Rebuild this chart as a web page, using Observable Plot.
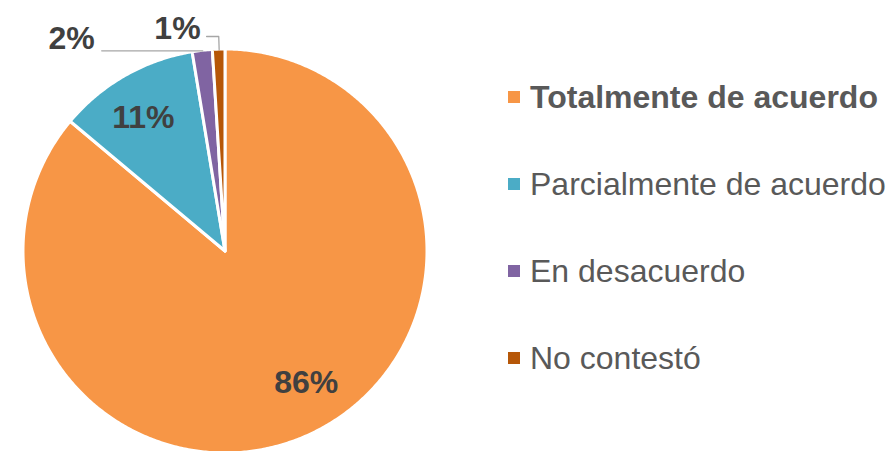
<!DOCTYPE html>
<html><head><meta charset="utf-8">
<script src="https://cdn.jsdelivr.net/npm/d3@7"></script>
<script src="https://cdn.jsdelivr.net/npm/@observablehq/plot@0.6"></script>
<style>
body{margin:0;background:#fff;font-family:"Liberation Sans",Arial,sans-serif;}
#wrap{position:relative;width:892px;height:451px;overflow:hidden;}
#chart{position:absolute;left:0;top:0;}
#legend{position:absolute;left:508px;top:0;}
.item{position:absolute;left:0;display:flex;align-items:center;height:32px;line-height:32px;font-size:32px;color:#595959;white-space:nowrap;}
.sw{width:12px;height:12px;margin-right:10px;flex:none;}
</style></head><body>
<div id="wrap"><div id="chart"></div><div id="legend"></div></div>
<script>
// ---- data ----
const categories = ["Totalmente de acuerdo", "Parcialmente de acuerdo", "En desacuerdo", "No contestó"];
const values = [86.1, 11.3, 1.6, 1.0];
const labels = ["86%", "11%", "2%", "1%"];
const colors = ["#F79646", "#4BACC6", "#8064A2", "#B65708"];

// ---- layout (not data) ----
const insideLabels = {
  "Totalmente de acuerdo": {r: 0.77, dx: 15, dy: -10},
  "Parcialmente de acuerdo": {r: 0.77, dx: -5, dy: 1}
};
const outsideLabels = {
  "En desacuerdo": {elbowR: 1.0, run: 0.5, dx: -7, dy: -12},
  "No contestó": {elbowR: 1.065, run: 0.06, dx: -6, dy: -8}
};

// ---- slices (angles clockwise from 12 o'clock) ----
const total = d3.sum(values);
let acc = 0;
const slices = categories.map((c, i) => {
  const a0 = acc / total * 2 * Math.PI;
  acc += values[i];
  const a1 = acc / total * 2 * Math.PI;
  return {cat: c, label: labels[i], a0, a1, mid: (a0 + a1) / 2};
});
const arcPts = slices.flatMap(s => {
  const n = Math.max(4, Math.ceil((s.a1 - s.a0) / (Math.PI / 360)));
  return d3.range(n + 1).map(k => {
    const a = s.a0 + (s.a1 - s.a0) * k / n;
    return {cat: s.cat, x: Math.sin(a), y: Math.cos(a)};
  });
});

const marks = [
  Plot.area(arcPts, {x1: () => 0, y1: () => 0, x2: "x", y2: "y", fill: "cat", z: "cat",
    stroke: "white", strokeWidth: 3, strokeLinejoin: "round", curve: "linear"})
];

for (const s of slices) {
  const il = insideLabels[s.cat];
  if (il) {
    marks.push(Plot.text([s], {x: d => Math.sin(d.mid) * il.r, y: d => Math.cos(d.mid) * il.r,
      text: "label", dx: il.dx, dy: il.dy, fontSize: 32, fontWeight: "bold", fill: "#404040"}));
  }
  const ol = outsideLabels[s.cat];
  if (ol) {
    const ex = Math.sin(s.mid), ey = Math.cos(s.mid);
    const bx = Math.sin(s.mid) * ol.elbowR, by = Math.cos(s.mid) * ol.elbowR;
    const pts = [{x: ex, y: ey}, {x: bx, y: by}, {x: bx - ol.run, y: by}];
    marks.push(Plot.line(pts, {x: "x", y: "y", stroke: "#A6A6A6", strokeWidth: 1.3}));
    marks.push(Plot.text([pts[2]], {x: "x", y: "y", text: () => s.label, textAnchor: "end",
      dx: ol.dx, dy: ol.dy, fontSize: 32, fontWeight: "bold", fill: "#404040"}));
  }
}

const chart = Plot.plot({
  width: 892,
  height: 451,
  x: {domain: [-1, 1], range: [23, 427], axis: null},
  y: {domain: [-1, 1], range: [453, 49], axis: null},
  color: {domain: categories, range: colors},
  style: {fontFamily: "Liberation Sans, Arial, sans-serif", background: "white", overflow: "visible"},
  marks
});
document.getElementById("chart").appendChild(chart);

// ---- legend ----
const legend = document.getElementById("legend");
categories.forEach((c, i) => {
  const item = document.createElement("div");
  item.className = "item";
  item.style.top = (81 + i * 87) + "px";
  if (i === 0) item.style.fontWeight = "bold";
  const sw = document.createElement("span");
  sw.className = "sw";
  sw.style.background = colors[i];
  const t = document.createElement("span");
  t.textContent = c;
  item.appendChild(sw);
  item.appendChild(t);
  legend.appendChild(item);
});
</script>
</body></html>
